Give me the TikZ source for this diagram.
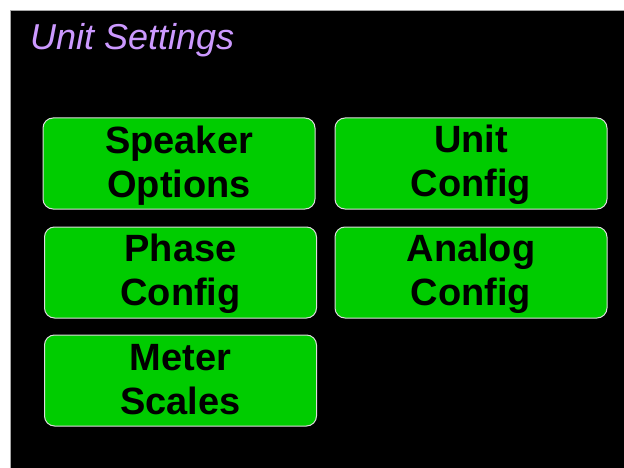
\documentclass[tikz,border=0pt]{standalone}
\usepackage{fontspec}
\setmainfont{Liberation Sans}
\definecolor{btngreen}{RGB}{0,204,0}
\definecolor{btnborder}{RGB}{220,220,220}
\definecolor{titlepurple}{RGB}{204,153,255}
\newcommand{\toplift}{\rule{0pt}{31pt}}
\newcommand{\botdrop}{\rule[-8pt]{0pt}{1pt}}
\tikzset{
  btn/.style={draw=btnborder, line width=1pt, fill=btngreen, rounded corners=10pt,
    minimum width=272pt, minimum height=91pt, inner sep=0pt, align=center,
    font=\fontsize{38}{44}\selectfont\bfseries, text=black},
  titletext/.style={font=\fontsize{36}{40}\selectfont\itshape, text=titlepurple, inner sep=0pt, anchor=base west}
}
\begin{document}
\begin{tikzpicture}[x=1pt,y=-1pt]
\useasboundingbox (0,0) rectangle (624,468);
\fill[white] (0,0) rectangle (624,468);
\fill[black] (10,10) rectangle (624,468);
\draw[gray!70, line width=0.6pt] (10,468) -- (10,10) -- (624,10);
\node[titletext] (title) at (30,49.5) {Unit Settings};
\node[btn] (speaker) at (179,163.5) {\toplift Speaker\\Options\botdrop};
\node[btn] (unit) at (471,163.5) {\toplift Unit\\Config\botdrop};
\node[btn] (phase) at (180.5,272.5) {\toplift Phase\\Config\botdrop};
\node[btn] (analog) at (471,272.5) {\toplift Analog\\Config\botdrop};
\node[btn] (meter) at (180.5,380.5) {\toplift Meter\\Scales\botdrop};
\end{tikzpicture}
\end{document}
